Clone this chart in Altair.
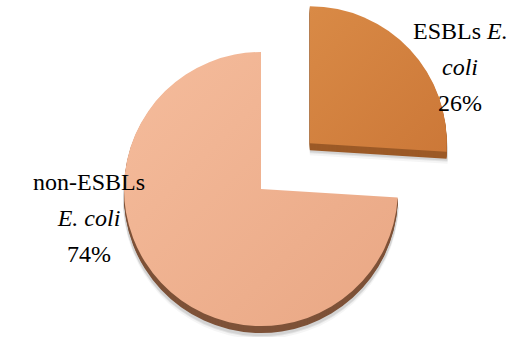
import altair as alt
import pandas as pd

# ---- data ----
categories = ["ESBLs E. coli", "non-ESBLs E. coli"]
percents = [26, 74]
exploded = [1, 0]
top_colors = [["#D98A46", "#CC7838"], ["#F5BC9C", "#E9A784"]]
side_colors = ["#9C5A27", "#7E5238"]

right_label = ["ESBLs", "E.", "coli", "26%"]
left_label = ["non-ESBLs", "E. coli", "74%"]

# ---- layout constants ----
W, H = 529, 337
CX, CY = 261, 189
R = 137
EXPLODE = 67
DEPTH = 7
FONT = "Liberation Serif"
FS = 24

df = pd.DataFrame({
    "cat": categories,
    "pct": percents,
    "explode": exploded,
    "order": list(range(len(categories))),
})

base = (
    alt.Chart(df)
    .transform_joinaggregate(total="sum(pct)")
    .transform_window(cum="sum(pct)", sort=[alt.SortField("order")])
    .transform_calculate(
        t1="2*PI*datum.cum/datum.total",
        t0="2*PI*(datum.cum-datum.pct)/datum.total",
    )
    .transform_calculate(mid="(datum.t0+datum.t1)/2")
    .transform_calculate(
        cx=f"{CX}+datum.explode*{EXPLODE}*sin(datum.mid)",
        cy=f"{CY}-datum.explode*{EXPLODE}*cos(datum.mid)",
    )
)

enc_common = dict(
    x=alt.X("cx:Q", scale=None, axis=None),
    theta=alt.Theta("t0:Q", scale=None),
    theta2="t1:Q",
)

layers = []

# soft shadow
for dz, op in [(12, 0.06), (10, 0.10), (9, 0.12)]:
    layers.append(
        base.transform_calculate(cyd=f"datum.cy+{dz}")
        .mark_arc(radius=R + 1, color="#555555", opacity=op)
        .encode(y=alt.Y("cyd:Q", scale=None, axis=None), **enc_common)
    )

# 3D side (depth)
for dz in range(DEPTH, 0, -1):
    layers.append(
        base.transform_calculate(cyd=f"datum.cy+{dz}")
        .mark_arc(radius=R)
        .encode(
            y=alt.Y("cyd:Q", scale=None, axis=None),
            color=alt.Color("cat:N", scale=alt.Scale(domain=categories, range=side_colors), legend=None),
            **enc_common,
        )
    )

# top faces with gradients
for cat, (c0, c1) in zip(categories, top_colors):
    grad = alt.LinearGradient(
        gradient="linear",
        stops=[alt.GradientStop(color=c0, offset=0), alt.GradientStop(color=c1, offset=1)],
        x1=0, y1=0, x2=1, y2=1,
    )
    layers.append(
        base.transform_filter(alt.datum.cat == cat)
        .mark_arc(radius=R, color=grad)
        .encode(y=alt.Y("cy:Q", scale=None, axis=None), **enc_common)
    )


def txt(t, x, y, italic=False, align="center"):
    kw = dict(font=FONT, fontSize=FS, align=align)
    if italic:
        kw["fontStyle"] = "italic"
    return (
        alt.Chart(pd.DataFrame({"t": [t]}))
        .mark_text(**kw)
        .encode(text="t:N", x=alt.value(x), y=alt.value(y))
    )


# mark_text default baseline is middle: y values are line centres
layers += [
    txt(right_label[0], 413, 32, align="left"),
    txt(right_label[1], 487, 32, italic=True, align="left"),
    txt(right_label[2], 460, 68, italic=True),
    txt(right_label[3], 460, 104),
    txt(left_label[0], 89, 183),
    txt(left_label[1], 89, 219, italic=True),
    txt(left_label[2], 89, 255),
]

chart = (
    alt.layer(*layers)
    .properties(width=W, height=H, autosize=alt.AutoSizeParams(type="none"), padding=0,
                background="white")
    .configure_view(stroke=None)
)

chart.save("out.html", embed_options={"renderer": "svg", "actions": False})
